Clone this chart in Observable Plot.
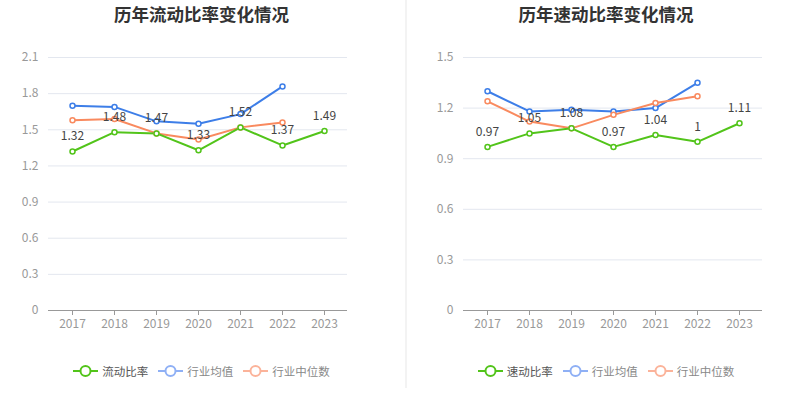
<!DOCTYPE html>
<html><head><meta charset="utf-8">
<script src="https://cdn.jsdelivr.net/npm/d3@7"></script>
<script src="https://cdn.jsdelivr.net/npm/@observablehq/plot@0.6"></script>
<style>
body{margin:0;background:#fff;font-family:"Noto Sans CJK SC","Noto Sans",sans-serif;}
#wrap{position:relative;width:807px;height:415px;overflow:hidden;}
.panel{position:absolute;top:0;height:415px;}
.title{position:absolute;top:0;left:0;width:100%;text-align:center;font-size:17.5px;font-weight:bold;color:#333;line-height:28px;}
.chart{position:absolute;top:30px;left:0;}
.legend{position:absolute;top:361px;left:0;width:100%;display:flex;justify-content:center;font-size:11.5px;line-height:20px;}
.legend span.item{display:flex;align-items:center;margin:0 5px;}
.legend svg{margin-right:4px;}
#sep{position:absolute;left:405px;top:0;width:2px;height:388px;background:#f3f3f3;}
</style></head>
<body><div id="wrap"><div id="sep"></div></div>
<script>
const years = ["2017","2018","2019","2020","2021","2022","2023"];
const currentRatio = [1.32,1.48,1.47,1.33,1.52,1.37,1.49];
const currentIndAvg = [1.70,1.69,1.57,1.55,1.63,1.86];
const currentIndMed = [1.58,1.59,1.47,1.42,1.52,1.56];
const quickRatio = [0.97,1.05,1.08,0.97,1.04,1.00,1.11];
const quickIndAvg = [1.30,1.18,1.19,1.18,1.20,1.35];
const quickIndMed = [1.24,1.12,1.08,1.16,1.23,1.27];
const leftTicks = [0,0.3,0.6,0.9,1.2,1.5,1.8,2.1];
const rightTicks = [0,0.3,0.6,0.9,1.2,1.5];

const GREEN="#52c41a", BLUE="#3d7ee8", ORANGE="#f98a5f";

function toRows(arr){return arr.map((v,i)=>({year:years[i],value:v}));}

function panel(opts){
  const p=document.createElement("div");
  p.className="panel";
  p.style.left=opts.left+"px";
  p.style.width=opts.width+"px";
  const t=document.createElement("div");
  t.className="title";t.textContent=opts.title;p.appendChild(t);
  const main=toRows(opts.main), avg=toRows(opts.avg), med=toRows(opts.med);
  const chart=Plot.plot({
    width:opts.width,height:320,
    marginTop:27,marginBottom:40,marginLeft:opts.ml,marginRight:opts.mr,
    style:{fontFamily:"'Noto Sans CJK SC','Noto Sans',sans-serif",fontSize:"12px",background:"transparent"},
    x:{type:"point",domain:years,padding:0.5,label:null},
    y:{domain:[0,opts.max],ticks:opts.ticks,label:null},
    marks:[
      Plot.gridY(opts.ticks.filter(d=>d>0),{stroke:"#e3e7ef",strokeOpacity:1,strokeWidth:1}),
      Plot.axisY(opts.ticks,{tickSize:0,tickPadding:10,fill:"#999",fontSize:12,tickFormat:d=>String(d)}),
      Plot.axisX({tickSize:5,tickPadding:4,fill:"#999",stroke:"#999",fontSize:12}),
      Plot.ruleY([0],{stroke:"#999",strokeWidth:1}),
      Plot.line(avg,{x:"year",y:"value",stroke:BLUE,strokeWidth:2}),
      Plot.line(med,{x:"year",y:"value",stroke:ORANGE,strokeWidth:2}),
      Plot.line(main,{x:"year",y:"value",stroke:GREEN,strokeWidth:2}),
      Plot.dot(avg,{x:"year",y:"value",r:2.5,stroke:BLUE,fill:"#fff",strokeWidth:1.5}),
      Plot.dot(med,{x:"year",y:"value",r:2.5,stroke:ORANGE,fill:"#fff",strokeWidth:1.5}),
      Plot.dot(main,{x:"year",y:"value",r:2.5,stroke:GREEN,fill:"#fff",strokeWidth:1.5}),
      Plot.text(main,{x:"year",y:"value",text:d=>String(d.value),dy:-15,fill:"#444",fontSize:12})
    ]
  });
  chart.classList.add("chart");
  p.appendChild(chart);
  const lg=document.createElement("div");lg.className="legend";
  const items=[[opts.mainName,GREEN,"#555"],["行业均值","#8fb0f5","#888"],["行业中位数","#fbb39a","#888"]];
  for(const [name,col,tc] of items){
    const it=document.createElement("span");it.className="item";
    it.innerHTML=`<svg width="25" height="14"><line x1="0" y1="7" x2="25" y2="7" stroke="${col}" stroke-width="2"/><circle cx="12.5" cy="7" r="5" fill="#fff" stroke="${col}" stroke-width="2"/></svg><span style="color:${tc}">${name}</span>`;
    lg.appendChild(it);
  }
  p.appendChild(lg);
  document.getElementById("wrap").appendChild(p);
}
panel({left:0,width:403,title:"历年流动比率变化情况",main:currentRatio,avg:currentIndAvg,med:currentIndMed,max:2.1,ticks:leftTicks,ml:48,mr:56,mainName:"流动比率"});
panel({left:405,width:402,title:"历年速动比率变化情况",main:quickRatio,avg:quickIndAvg,med:quickIndMed,max:1.5,ticks:rightTicks,ml:58,mr:45,mainName:"速动比率"});
</script></body></html>
